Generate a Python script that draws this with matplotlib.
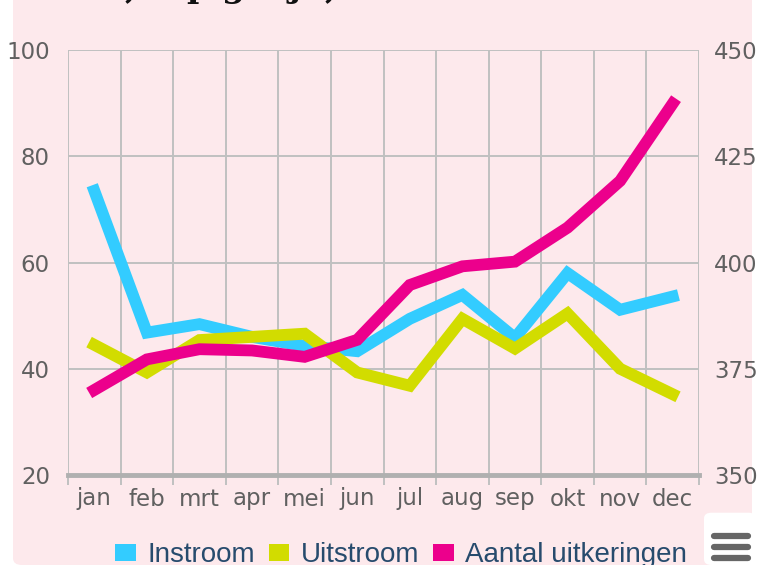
import matplotlib
matplotlib.use("Agg")
from matplotlib import pyplot as plt
from matplotlib.lines import Line2D
from matplotlib.patches import FancyBboxPatch, Rectangle

# data
months = ["jan", "feb", "mrt", "apr", "mei", "jun", "jul", "aug", "sep", "okt", "nov", "dec"]
instroom = [73.5, 46.8, 48.4, 46.0, 44.3, 43.3, 49.4, 53.9, 45.8, 58.0, 51.1, 53.6]
uitstroom = [44.5, 39.3, 45.4, 46.0, 46.6, 39.3, 36.8, 49.4, 43.8, 50.4, 40.0, 35.2]
uitkeringen = [370.0, 377.2, 379.6, 379.3, 377.8, 381.8, 394.7, 399.1, 400.2, 408.2, 419.2, 437.4]

left_ticks = [20, 40, 60, 80, 100]
right_ticks = [350, 375, 400, 425, 450]

series_names = ["Instroom", "Uitstroom", "Aantal uitkeringen"]
colors = ["#33ccff", "#d2dc00", "#ec008c"]

W, H = 757, 565
plt.rcParams["font.family"] = ["DejaVu Sans"]

fig = plt.figure(figsize=(W / 100, H / 100), dpi=100, facecolor="white")

# pink rounded chart background
bg = FancyBboxPatch(
    (13 / W, 0), (752 - 13) / W, (H - 9) / H + 0.05,
    boxstyle="round,pad=0,rounding_size=0.012",
    transform=fig.transFigure, facecolor="#fde9ec", edgecolor="none", zorder=-5,
)
fig.patches.append(bg)

# cut-off title fragments at the very top
for x, ch in [(130, ","), (198, "p"), (233, "g"), (295, "j"), (330, ",")]:
    fig.text(x / W, 1 + 3 / H, ch, ha="center", va="baseline",
             family="DejaVu Serif", weight="bold", size=24, color="#111111")

ax = fig.add_axes([68 / W, (H - 475) / H, (699 - 68) / W, (475 - 50) / H])
ax.set_facecolor("none")
ax2 = ax.twinx()

x = list(range(len(months)))
ax.plot(x, instroom, color=colors[0], lw=8.5, zorder=3, solid_joinstyle="miter")
ax.plot(x, uitstroom, color=colors[1], lw=8.5, zorder=4, solid_joinstyle="miter")
ax2.plot(x, uitkeringen, color=colors[2], lw=8.5, zorder=5, solid_joinstyle="miter")

ax.set_xlim(-0.5, 11.5)
ax.set_ylim(20, 100)
ax2.set_ylim(350, 450)
ax.set_yticks(left_ticks)
ax2.set_yticks(right_ticks)

ax.set_xticks(x)
ax.set_xticklabels(months)
ax.set_xticks([i - 0.5 for i in range(13)], minor=True)

grid_c = "#c0c0c0"
ax.grid(axis="y", which="major", color=grid_c, lw=1.4)
ax.grid(axis="x", which="minor", color=grid_c, lw=1.4)
ax.set_axisbelow(True)

for a in (ax, ax2):
    for s in a.spines.values():
        s.set_visible(False)
ax.spines["bottom"].set_visible(True)
ax.spines["bottom"].set_color("#b0b0b0")
ax.spines["bottom"].set_linewidth(3.5)
ax.spines["bottom"].set_zorder(6)

label_c = "#606060"
ax.tick_params(axis="x", which="major", length=0, pad=9, labelsize=16.5, labelcolor=label_c)
ax.tick_params(axis="x", which="minor", length=7, width=1.4, color=grid_c, direction="out")
ax.tick_params(axis="y", length=0, pad=13, labelsize=16.5, labelcolor=label_c)
ax2.tick_params(axis="y", length=0, pad=11, labelsize=16.5, labelcolor=label_c)

handles = [Rectangle((0, 0), 1, 1, facecolor=c, edgecolor="none") for c in colors]
fig.legend(
    handles, series_names, loc="center", bbox_to_anchor=(401 / W, 1 - 555 / H),
    ncol=3, frameon=False, handlelength=0.75, handleheight=0.55, handletextpad=0.4,
    columnspacing=0.5, labelcolor="#274b6d", borderaxespad=0, borderpad=0,
    prop={"family": ["Liberation Sans", "DejaVu Sans"], "size": 20},
)

# context menu button
btn = FancyBboxPatch(
    (704 / W, 0), (756 - 704) / W, (H - 524) / H + 0.02,
    boxstyle="round,pad=0,rounding_size=0.01",
    transform=fig.transFigure, facecolor="white", edgecolor="none", zorder=10,
)
fig.patches.append(btn)
for yb in (536, 547, 558):
    fig.add_artist(Line2D([714 / W, 748 / W], [1 - yb / H] * 2, transform=fig.transFigure,
                          color="#666666", lw=4.5, solid_capstyle="round", zorder=11))

fig.savefig("out.png", dpi=100, facecolor="white")
